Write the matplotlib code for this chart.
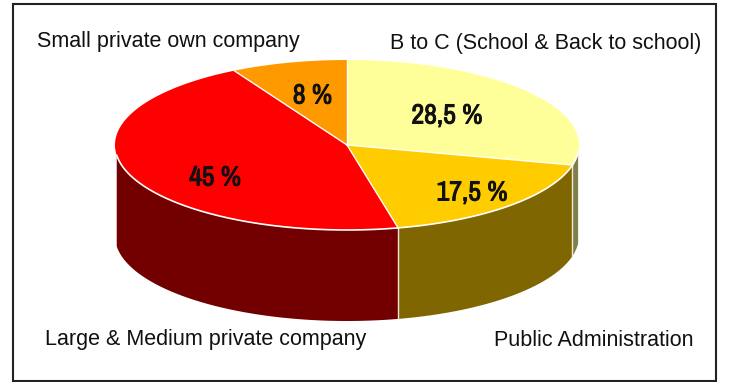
import numpy as np
import matplotlib
matplotlib.use('Agg')
import matplotlib.pyplot as plt
import matplotlib.patheffects as pe
from matplotlib.patches import Rectangle

# market share per customer group, clockwise from the top of the pie
labels = ['B to C (School & Back to school)', 'Public Administration',
          'Large & Medium private company', 'Small private own company']
shares = [28.5, 17.5, 45, 8]
share_text = ['28,5 %', '17,5 %', '45 %', '8 %']

top_colors = ['#FFFF99', '#FFCC00', '#FF0000', '#FF9900']
side_colors = ['#7F7F4C', '#7F6600', '#720000', '#7F4C00']

W, H = 730, 382
cx, cy = 347, 145
rx, ry = 232, 85
depth = 91


def rim(a0, a1, n=200):
    a = np.radians(np.linspace(a0, a1, n))
    return cx + rx * np.cos(a), cy - ry * np.sin(a)


fig = plt.figure(figsize=(W / 100, H / 100), dpi=100)
ax = fig.add_axes([0, 0, 1, 1])
ax.set_xlim(0, W)
ax.set_ylim(H, 0)
ax.axis('off')

ax.add_patch(Rectangle((12.5, 3.5), 703, 377, fc='white', ec='#222222', lw=1.5))

# slice boundaries in degrees, going clockwise from 12 o'clock
edges = 90 - np.cumsum([0] + shares) * 360 / sum(shares)

# walls first, only the front part of the rim is visible
for i in range(len(shares)):
    a0, a1 = min(edges[i], -5), max(edges[i + 1], -173)
    if a0 <= a1:
        continue
    x, y = rim(a0, a1)
    ax.fill(np.r_[x, x[::-1]], np.r_[y, y[::-1] + depth], color=side_colors[i], lw=0)
    ax.plot(x, y, color='white', lw=1.2)
    if i < 2:
        ax.plot([x[-1], x[-1]], [y[-1], y[-1] + depth], color='#F2E6DC', lw=1.0)

# top surface
for i in range(len(shares)):
    x, y = rim(edges[i], edges[i + 1])
    ax.fill(np.r_[cx, x], np.r_[cy, y], color=top_colors[i], lw=0)
for e in edges[:-1]:
    x, y = rim(e, e, 1)
    ax.plot([cx, x[0]], [cy, y[0]], color='white', lw=1.0)

# percent labels on the slices, the narrow font has no bold so thicken it
pct_pos = [(447, 116), (472, 193), (215, 178), (312.5, 96)]
for t, (px, py) in zip(share_text, pct_pos):
    ax.text(px, py, t, ha='center', va='center', fontsize=20, fontweight='bold',
            family=['Archivo Narrow', 'Liberation Sans'], color='#111111',
            path_effects=[pe.withStroke(linewidth=0.7, foreground='#111111')])

# group names around the pie
name_pos = [(545.5, 43.5), (594, 340), (206, 340), (168.5, 41.5)]
for t, (px, py) in zip(labels, name_pos):
    ax.text(px, py, t, ha='center', va='center', fontsize=15.5,
            family='Liberation Sans', color='#111111')

fig.savefig('out.png', dpi=100)
